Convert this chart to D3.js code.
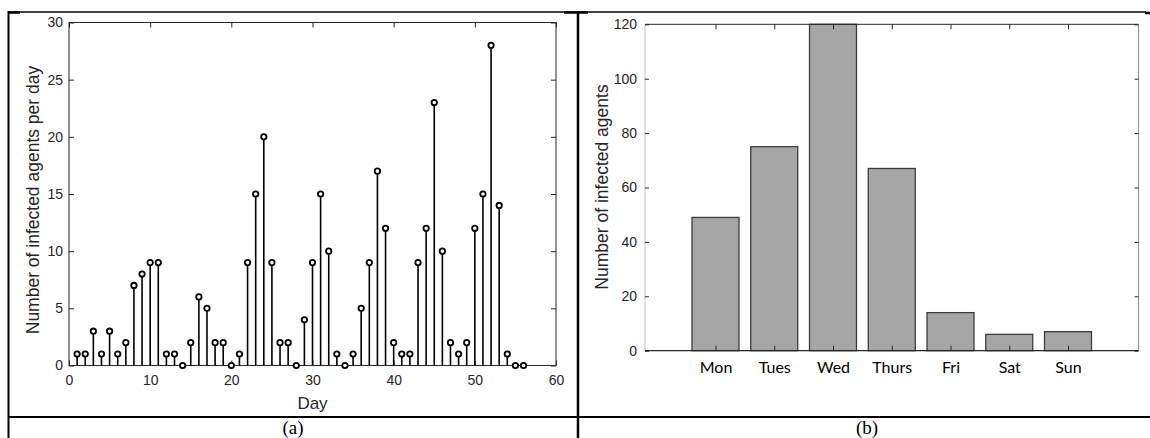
<!DOCTYPE html>
<html>
<head>
<meta charset="utf-8">
<title>Infected agents</title>
<script src="https://d3js.org/d3.v7.min.js"></script>
<style>
  body { margin: 0; background: #fff; }
  svg { display: block; }
  .tick text { font-family: "Liberation Sans", Arial, sans-serif; }
</style>
</head>
<body>
<svg width="1150" height="438" font-family="Liberation Sans, Arial, sans-serif"></svg>
<script>
// (a) daily new infections, day 1..56
var days = d3.range(1, 57);
var dailyInfected = [1, 1, 3, 1, 3, 1, 2, 7, 8, 9, 9, 1, 1, 0, 2, 6, 5, 2, 2, 0,
                     1, 9, 15, 20, 9, 2, 2, 0, 4, 9, 15, 10, 1, 0, 1, 5, 9, 17, 12, 2,
                     1, 1, 9, 12, 23, 10, 2, 1, 2, 12, 15, 28, 14, 1, 0, 0];
var dayTicks = [0, 10, 20, 30, 40, 50, 60];
var dailyTicks = [0, 5, 10, 15, 20, 25, 30];

// (b) infections by weekday
var weekdays = ['Mon', 'Tues', 'Wed', 'Thurs', 'Fri', 'Sat', 'Sun'];
var weekdayInfected = [49, 75, 120, 67, 14, 6, 7];
var weekdayTicks = [0, 20, 40, 60, 80, 100, 120];

var svg = d3.select('svg');
var ink = '#262626';
var sans = '"Liberation Sans", Arial, sans-serif';
var serif = '"Liberation Serif", "Times New Roman", serif';

// ---------- table frame ----------
var frame = svg.append('g').attr('stroke', '#000');
frame.append('line').attr('x1', 8).attr('x2', 1146).attr('y1', 12).attr('y2', 12).attr('stroke-width', 1.5);
frame.append('line').attr('x1', 8.5).attr('x2', 8.5).attr('y1', 11).attr('y2', 438).attr('stroke-width', 2);
frame.append('line').attr('x1', 578).attr('x2', 578).attr('y1', 11).attr('y2', 438).attr('stroke-width', 2.5);
frame.append('line').attr('x1', 8).attr('x2', 1150).attr('y1', 417).attr('y2', 417).attr('stroke-width', 2);
// little thick stubs on the top rule
frame.append('line').attr('x1', 8).attr('x2', 20).attr('y1', 12.5).attr('y2', 12.5).attr('stroke-width', 2.5);
frame.append('line').attr('x1', 564).attr('x2', 588).attr('y1', 12.5).attr('y2', 12.5).attr('stroke-width', 2.5);
frame.append('line').attr('x1', 1145).attr('x2', 1150).attr('y1', 13).attr('y2', 13).attr('stroke-width', 2.5);

svg.append('text').attr('x', 293).attr('y', 433.5).attr('text-anchor', 'middle')
  .style('font-family', serif).style('font-size', '19px')
  .text('(a)');
svg.append('text').attr('x', 867).attr('y', 433.5).attr('text-anchor', 'middle')
  .style('font-family', serif).style('font-size', '19px')
  .text('(b)');

// ---------- (a) stem plot ----------
var xA = d3.scaleLinear().domain([0, 60]).range([69, 556]);
var yA = d3.scaleLinear().domain([0, 30]).range([365.5, 22.5]);

function styleAxis(g) {
  g.select('.domain').remove();
  g.selectAll('.tick line').attr('stroke', ink);
  g.selectAll('.tick text').attr('fill', ink).style('font-family', sans).style('font-size', '14px');
  return g;
}

var a = svg.append('g');
a.append('rect').attr('x', xA(0)).attr('y', yA(30))
  .attr('width', xA(60) - xA(0)).attr('height', yA(0) - yA(30))
  .attr('fill', 'none').attr('stroke', ink).attr('stroke-width', 1);

a.append('g').attr('transform', 'translate(0,' + yA(0) + ')')
  .call(d3.axisBottom(xA).tickValues(dayTicks).tickSize(-5).tickPadding(10).tickFormat(d3.format('d')))
  .call(styleAxis);
a.append('g').attr('transform', 'translate(0,' + yA(30) + ')')
  .call(d3.axisTop(xA).tickValues(dayTicks).tickSize(-5).tickFormat(''))
  .call(styleAxis);
a.append('g').attr('transform', 'translate(' + xA(0) + ',0)')
  .call(d3.axisLeft(yA).tickValues(dailyTicks).tickSize(-5).tickPadding(6).tickFormat(d3.format('d')))
  .call(styleAxis);
a.append('g').attr('transform', 'translate(' + xA(60) + ',0)')
  .call(d3.axisRight(yA).tickValues(dailyTicks).tickSize(-5).tickFormat(''))
  .call(styleAxis);

a.selectAll('.stem').data(dailyInfected).enter().append('line')
  .attr('class', 'stem')
  .attr('x1', function(d, i) { return xA(days[i]); })
  .attr('x2', function(d, i) { return xA(days[i]); })
  .attr('y1', yA(0))
  .attr('y2', function(d) { return yA(d); })
  .attr('stroke', '#000').attr('stroke-width', 1.6);

a.selectAll('.mark').data(dailyInfected).enter().append('circle')
  .attr('class', 'mark')
  .attr('cx', function(d, i) { return xA(days[i]); })
  .attr('cy', function(d) { return yA(d); })
  .attr('r', 2.7)
  .attr('fill', '#fff').attr('stroke', '#000').attr('stroke-width', 1.8);

a.append('text').attr('x', xA(30)).attr('y', 409).attr('text-anchor', 'middle')
  .attr('fill', ink).style('font-family', sans).style('font-size', '17px')
  .text('Day');
a.append('text').attr('transform', 'translate(39,200) rotate(-90)').attr('text-anchor', 'middle')
  .attr('fill', ink).style('font-family', sans).style('font-size', '17.5px')
  .text('Number of infected agents per day');

// ---------- (b) bar chart ----------
var xB = d3.scaleLinear().domain([-0.2, 8.2]).range([645, 1138.5]);
var yB = d3.scaleLinear().domain([0, 120]).range([350.7, 24.3]);
var pos = weekdays.map(function(d, i) { return i + 1; });

var b = svg.append('g');

b.selectAll('.bar').data(weekdayInfected).enter().append('rect')
  .attr('class', 'bar')
  .attr('x', function(d, i) { return xB(pos[i] - 0.4); })
  .attr('width', xB(0.8) - xB(0))
  .attr('y', function(d) { return yB(d); })
  .attr('height', function(d) { return yB(0) - yB(d); })
  .attr('fill', '#a6a6a6').attr('stroke', '#3c3c3c').attr('stroke-width', 1.3);

// axis box: left and right edges are grey in the original
b.append('line').attr('x1', xB(-0.2)).attr('x2', xB(-0.2)).attr('y1', yB(0)).attr('y2', yB(120))
  .attr('stroke', '#c8c8c8').attr('stroke-width', 1.2);
b.append('line').attr('x1', xB(8.2)).attr('x2', xB(8.2)).attr('y1', yB(0)).attr('y2', yB(120))
  .attr('stroke', '#9a9a9a').attr('stroke-width', 1.2);
b.append('line').attr('x1', xB(-0.2)).attr('x2', xB(8.2)).attr('y1', yB(120)).attr('y2', yB(120))
  .attr('stroke', ink).attr('stroke-width', 1);
b.append('line').attr('x1', xB(-0.2)).attr('x2', xB(8.2)).attr('y1', yB(0)).attr('y2', yB(0))
  .attr('stroke', ink).attr('stroke-width', 1.2);

b.append('g').attr('transform', 'translate(0,' + yB(0) + ')')
  .call(d3.axisBottom(xB).tickValues(pos).tickSize(-5).tickPadding(11)
    .tickFormat(function(d) { return weekdays[d - 1]; }))
  .call(styleAxis)
  .call(function(g) {
    g.selectAll('.tick text').style('font-family', 'Lato, "Open Sans", sans-serif')
      .style('font-size', '16px').attr('fill', '#000');
  });
b.append('g').attr('transform', 'translate(0,' + yB(120) + ')')
  .call(d3.axisTop(xB).tickValues(pos).tickSize(-5).tickFormat(''))
  .call(styleAxis);
b.append('g').attr('transform', 'translate(' + xB(-0.2) + ',0)')
  .call(d3.axisLeft(yB).tickValues(weekdayTicks).tickSize(-4).tickPadding(8).tickFormat(d3.format('d')))
  .call(styleAxis);
b.append('g').attr('transform', 'translate(' + xB(8.2) + ',0)')
  .call(d3.axisRight(yB).tickValues(weekdayTicks).tickSize(-4).tickFormat(''))
  .call(styleAxis);

b.append('text').attr('transform', 'translate(608,187) rotate(-90)').attr('text-anchor', 'middle')
  .attr('fill', ink).style('font-family', sans).style('font-size', '17.5px')
  .text('Number of infected agents');
</script>
</body>
</html>
